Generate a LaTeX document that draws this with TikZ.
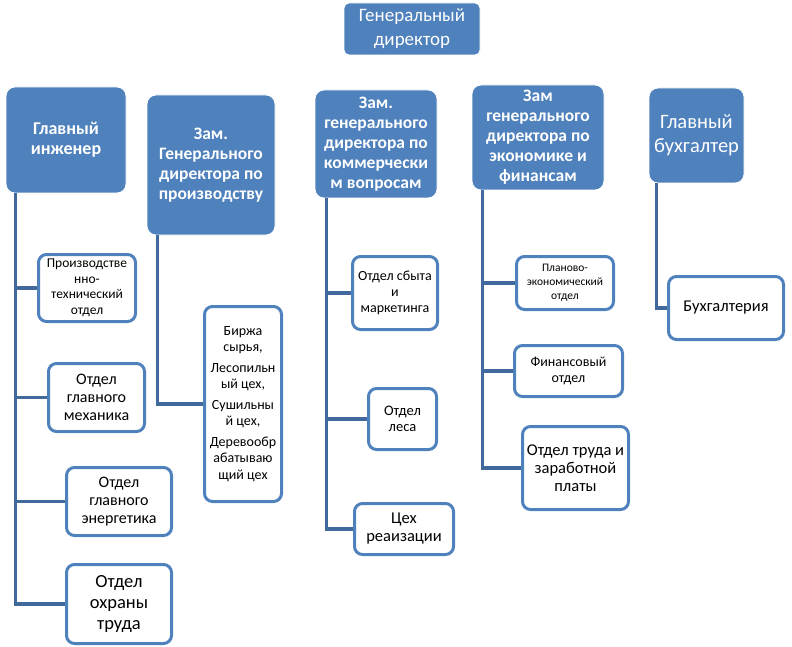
\documentclass[tikz,border=0pt]{standalone}
\usepackage{fontspec}
\setmainfont{Carlito}
\usetikzlibrary{calc}
\definecolor{boxblue}{HTML}{4F81BD}
\definecolor{linkblue}{HTML}{41699B}
\tikzset{
	headbox/.style={draw=white, line width=0.8pt, fill=boxblue, rounded corners=9pt, text=white, align=center, inner sep=0pt},
	unitbox/.style={draw=boxblue, line width=3pt, fill=white, rounded corners=8pt, text=black, align=center, inner sep=0pt},
	link/.style={draw=linkblue, line width=3.5pt}
}

\begin{document}
\begin{tikzpicture}[x=1pt, y=-1pt]
		%%%%% START %%%%%
		\useasboundingbox (0, 0) rectangle (792, 647);
		
		\node[headbox, minimum width=136pt, minimum height=52pt, rounded corners=5pt, font=\fontsize{19}{24}\selectfont] (gd) at (412, 29) {Генеральный\\директор};
		
		\node[headbox, minimum width=120pt, minimum height=106pt, font=\bfseries\fontsize{18}{20}\selectfont] (ge) at (66, 140) {Главный\\инженер};
		\node[headbox, minimum width=128pt, minimum height=140pt, font=\bfseries\fontsize{17.5}{20}\selectfont] (zp) at (211, 165) {Зам.\\Генерального\\директора по\\производству};
		\node[headbox, minimum width=122pt, minimum height=108pt, font=\bfseries\fontsize{17.5}{20}\selectfont] (zk) at (376, 144) {Зам.\\генерального\\директора по\\коммерчески\\м вопросам};
		\node[headbox, minimum width=132pt, minimum height=105pt, font=\bfseries\fontsize{17.5}{20}\selectfont] (ze) at (538, 137.5) {Зам\\генерального\\директора по\\экономике и\\финансам};
		\node[headbox, minimum width=95pt, minimum height=95pt, font=\fontsize{20.5}{24}\selectfont] (gb) at (696.5, 135.5) {Главный\\бухгалтер};
		
		\node[unitbox, minimum width=97pt, minimum height=67pt, font=\fontsize{13.5}{15.5}\selectfont] (pto) at (87, 288) {Производстве\\нно-\\технический\\отдел};
		\node[unitbox, minimum width=96pt, minimum height=68pt, font=\fontsize{16}{18}\selectfont] (meh) at (96.5, 397.5) {Отдел\\главного\\механика};
		\node[unitbox, minimum width=105pt, minimum height=68pt, font=\fontsize{16}{18}\selectfont] (ener) at (119, 501.5) {Отдел\\главного\\энергетика};
		\node[unitbox, minimum width=105pt, minimum height=79pt, font=\fontsize{18.5}{21}\selectfont] (ohr) at (119, 604) {Отдел\\охраны\\труда};
		
		\node[unitbox, minimum width=77pt, minimum height=195pt, font=\fontsize{14}{16.5}\selectfont] (birzha) at (243, 404) {Биржа\\сырья,\\[4pt]Лесопильн\\ый цех,\\[4pt]Сушильны\\й цех,\\[4pt]Деревообр\\абатываю\\щий цех};
		
		\node[unitbox, minimum width=85pt, minimum height=73pt, font=\fontsize{14}{16}\selectfont] (sbyt) at (395, 293) {Отдел сбыта\\и\\маркетинга};
		\node[unitbox, minimum width=68pt, minimum height=61pt, font=\fontsize{14.5}{16}\selectfont] (les) at (402.5, 419) {Отдел\\леса};
		\node[unitbox, minimum width=99pt, minimum height=51pt, font=\fontsize{16.5}{18}\selectfont] (ceh) at (404, 529) {Цех\\реаизации};
		
		\node[unitbox, minimum width=97pt, minimum height=53pt, font=\fontsize{11.5}{14}\selectfont] (plan) at (565, 283) {Планово-\\экономический\\отдел};
		\node[unitbox, minimum width=108pt, minimum height=51pt, font=\fontsize{14}{16}\selectfont] (fin) at (568.5, 371) {Финансовый\\отдел};
		\node[unitbox, minimum width=106pt, minimum height=83pt, font=\fontsize{16.5}{18}\selectfont] (trud) at (575.5, 468) {Отдел труда и\\заработной\\платы};
		
		\node[unitbox, minimum width=115pt, minimum height=63pt, font=\fontsize{16.5}{18}\selectfont] (buh) at (726, 308) {Бухгалтерия};
		
		\draw[link] ([xshift=10pt]ge.south west) |- (pto.west);
		\draw[link] ([xshift=10pt]ge.south west) |- (meh.west);
		\draw[link] ([xshift=10pt]ge.south west) |- (ener.west);
		\draw[link] ([xshift=10pt]ge.south west) |- (ohr.west);
		
		\draw[link] ([xshift=11pt]zp.south west) |- (birzha.west);
		
		\draw[link] ([xshift=12pt]zk.south west) |- (sbyt.west);
		\draw[link] ([xshift=12pt]zk.south west) |- (les.west);
		\draw[link] ([xshift=12pt]zk.south west) |- (ceh.west);
		
		\draw[link] ([xshift=11pt]ze.south west) |- (plan.west);
		\draw[link] ([xshift=11pt]ze.south west) |- (fin.west);
		\draw[link] ([xshift=11pt]ze.south west) |- (trud.west);
		
		\draw[link] ([xshift=8pt]gb.south west) |- (buh.west);
		%%%%% END %%%%%
	\end{tikzpicture}
\end{document}
